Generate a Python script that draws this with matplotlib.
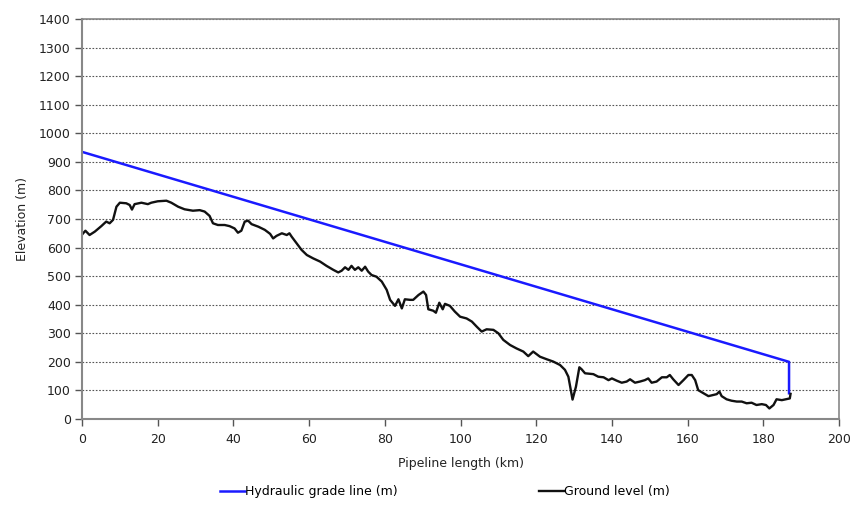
import matplotlib
matplotlib.use("Agg")
import matplotlib.pyplot as plt

plt.rcParams['font.family'] = ['DejaVu Sans']

# Hydraulic grade line
hgl_km = [0, 186.8, 186.8]
hgl_m = [935, 200, 90]

# Ground level
ground_km = [0.0, 0.3, 0.9, 2.0, 3.4, 5.1, 6.4, 7.3, 8.2, 9.1, 10.0, 11.7, 12.6, 13.2, 13.9,
             15.7, 17.4, 18.3, 20.0, 22.3, 23.6, 25.4, 27.1, 29.3, 31.1, 32.4, 33.7, 34.6,
             35.9, 37.7, 39.0, 40.3, 41.2, 42.1, 43.0, 43.9, 44.8, 46.6, 48.3, 49.7, 50.5,
             51.4, 52.8, 54.1, 54.8, 55.4, 56.7, 58.0, 59.4, 61.1, 62.9, 64.6, 66.4, 67.7,
             68.6, 69.5, 70.4, 71.2, 72.1, 73.0, 73.9, 74.8, 75.6, 76.5, 77.8, 79.2, 80.5,
             81.4, 82.7, 83.6, 84.5, 85.3, 86.7, 87.5, 88.9, 90.2, 90.9, 91.5, 92.8, 93.5,
             94.4, 95.3, 95.9, 97.2, 98.5, 99.9, 101.6, 103.0, 104.3, 105.6, 106.9, 108.7,
             110.0, 111.3, 113.1, 114.8, 116.6, 117.9, 119.2, 121.0, 122.8, 124.5, 126.3,
             127.6, 128.5, 129.6, 130.5, 131.4, 132.0, 132.9, 135.1, 136.4, 137.8, 139.1,
             140.0, 141.3, 142.6, 143.9, 144.8, 146.1, 147.4, 148.7, 149.6, 150.5, 151.8,
             153.2, 154.5, 155.3, 156.2, 157.6, 158.9, 160.2, 161.1, 162.0, 162.8, 164.2,
             165.5, 166.8, 167.7, 168.4, 169.0, 170.3, 171.6, 173.0, 174.3, 175.6, 176.9,
             178.2, 179.6, 180.7, 181.6, 182.7, 183.5, 184.9, 186.0, 187.0, 187.2]
ground_m = [645, 650, 659, 644, 656, 675, 691, 685, 697, 743, 757, 755, 749, 733, 752,
            757, 752, 757, 762, 764, 757, 743, 734, 729, 731, 726, 711, 685,
            679, 679, 675, 667, 652, 659, 691, 694, 682, 673, 662, 648, 632,
            641, 650, 644, 650, 638, 615, 592, 574, 562, 551, 536, 522, 513,
            519, 531, 522, 536, 522, 531, 519, 533, 516, 504, 498, 481, 452,
            417, 396, 419, 387, 419, 417, 417, 434, 446, 434, 384, 379, 372,
            407, 384, 403, 396, 376, 358, 352, 341, 323, 306, 314, 312,
            300, 277, 259, 247, 236, 220, 236, 218, 209, 201, 189,
            172, 148, 68, 113, 181, 174, 160, 157, 148, 146, 136,
            142, 134, 127, 131, 139, 127, 131, 136, 142, 127, 131,
            146, 146, 154, 139, 119, 136, 154, 154, 136, 101, 90,
            80, 84, 87, 96, 80, 69, 64, 61, 61, 55, 57,
            49, 52, 49, 37, 49, 69, 66, 69, 72, 88]

x_ticks = [0, 20, 40, 60, 80, 100, 120, 140, 160, 180, 200]
y_ticks = list(range(0, 1401, 100))

fig = plt.figure(figsize=(8.59, 5.05), dpi=100)
ax = fig.add_axes([82/859, 1-419/505, (839-82)/859, (419-19)/505])

ax.set_xlim(0, 200)
ax.set_ylim(0, 1400)
ax.set_xticks(x_ticks)
ax.set_yticks(y_ticks)

ax.yaxis.grid(True, color='#555555', linestyle=(0, (1.5, 1.5)), linewidth=0.8)
ax.set_axisbelow(True)

l1, = ax.plot(hgl_km, hgl_m, color='#1a1aff', linewidth=1.8, label='Hydraulic grade line (m)')
l2, = ax.plot(ground_km, ground_m, color='#111111', linewidth=1.7, label='Ground level (m)')

for s in ['left', 'bottom']:
    ax.spines[s].set_color('#888888')
    ax.spines[s].set_linewidth(1.5)
for s in ['top', 'right']:
    ax.spines[s].set_color('#888888')
    ax.spines[s].set_linewidth(1.2)

ax.tick_params(axis='both', direction='out', length=5, width=1, color='#555555',
               labelsize=9, labelcolor='#222222', pad=3)
ax.tick_params(axis='x', pad=5)

ax.set_xlabel('Pipeline length (km)', fontsize=9, color='#222222', labelpad=8)
ax.set_ylabel('Elevation (m)', fontsize=9, color='#222222', labelpad=7)

fig.legend(handles=[l1], loc='center left', bbox_to_anchor=(220/859, 1-492/505),
           frameon=False, fontsize=9, handlelength=2.0, handletextpad=0.0,
           borderpad=0, borderaxespad=0)
fig.legend(handles=[l2], loc='center left', bbox_to_anchor=(539/859, 1-492/505),
           frameon=False, fontsize=9, handlelength=2.0, handletextpad=0.0,
           borderpad=0, borderaxespad=0)

fig.savefig('out.png', dpi=100)
